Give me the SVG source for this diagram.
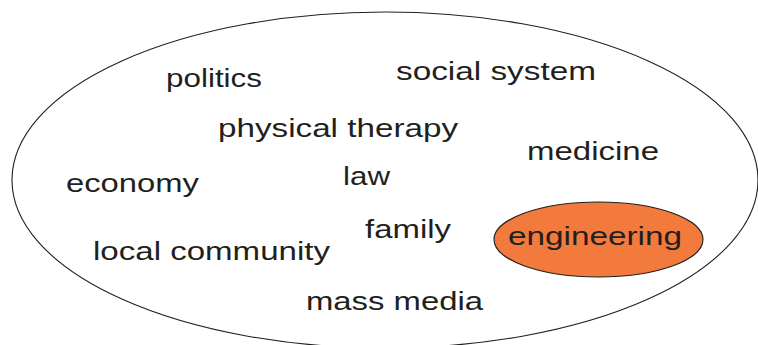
<svg xmlns="http://www.w3.org/2000/svg" width="758" height="345" viewBox="0 0 758 345">
<style>
.lbl{font-family:"Liberation Sans",Arial,sans-serif;font-size:25px;fill:#231F20}
.outer{fill:#ffffff;stroke:#231F20;stroke-width:1.1}
.hl{fill:#F27A3D;stroke:#231F20;stroke-width:1.1}
</style>
<rect width="758" height="345" fill="#ffffff"/>
<g id="society">
<ellipse class="outer" cx="385" cy="180" rx="373" ry="168"/>
</g>
<g id="connectors"></g>
<g id="politics"><text class="lbl" x="166" y="87" textLength="96" lengthAdjust="spacingAndGlyphs">politics</text></g>
<g id="social-system"><text class="lbl" x="396" y="80" textLength="200" lengthAdjust="spacingAndGlyphs">social system</text></g>
<g id="physical-therapy"><text class="lbl" x="218" y="137" textLength="240" lengthAdjust="spacingAndGlyphs">physical therapy</text></g>
<g id="medicine"><text class="lbl" x="527" y="160" textLength="132" lengthAdjust="spacingAndGlyphs">medicine</text></g>
<g id="economy"><text class="lbl" x="66" y="192" textLength="133" lengthAdjust="spacingAndGlyphs">economy</text></g>
<g id="law"><text class="lbl" x="343" y="185" textLength="47" lengthAdjust="spacingAndGlyphs">law</text></g>
<g id="family"><text class="lbl" x="365" y="238" textLength="86" lengthAdjust="spacingAndGlyphs">family</text></g>
<g id="local-community"><text class="lbl" x="93" y="260" textLength="237" lengthAdjust="spacingAndGlyphs">local community</text></g>
<g id="engineering">
<ellipse class="hl" cx="598.5" cy="239.5" rx="104.5" ry="37.5"/>
<text class="lbl" x="508" y="245" textLength="174" lengthAdjust="spacingAndGlyphs">engineering</text>
</g>
<g id="mass-media"><text class="lbl" x="306" y="310" textLength="177" lengthAdjust="spacingAndGlyphs">mass media</text></g>
</svg>
